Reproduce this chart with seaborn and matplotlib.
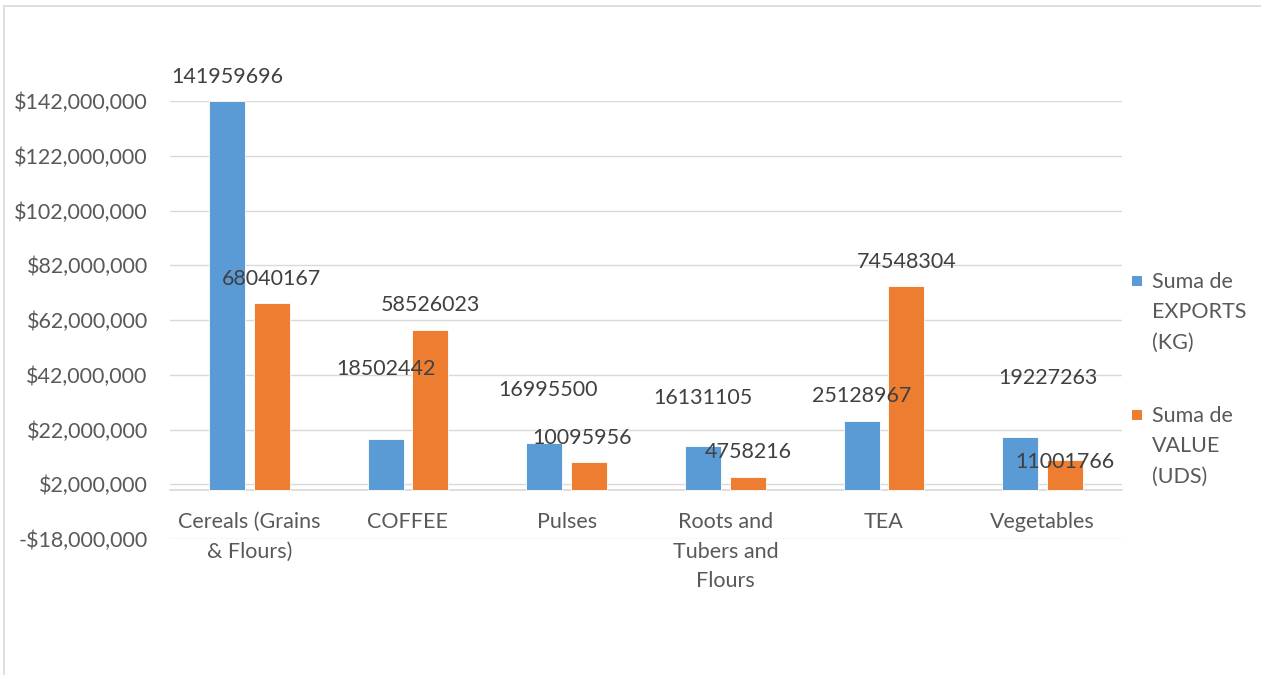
import matplotlib
matplotlib.use("Agg")
import matplotlib.pyplot as plt
from matplotlib.patches import Rectangle
from matplotlib.lines import Line2D
from matplotlib.ticker import FuncFormatter
import seaborn as sns
import pandas as pd

categories = ["Cereals (Grains\n& Flours)", "COFFEE", "Pulses",
              "Roots and\nTubers and\nFlours", "TEA", "Vegetables"]
series_names = ["Suma de\nEXPORTS\n(KG)", "Suma de\nVALUE\n(UDS)"]
exports_kg = [141959696, 18502442, 16995500, 16131105, 25128967, 19227263]
value_uds = [68040167, 58526023, 10095956, 4758216, 74548304, 11001766]
y_ticks = [-18000000, 2000000, 22000000, 42000000, 62000000,
           82000000, 102000000, 122000000, 142000000]

# label offsets (pixels) from the top centre of each bar, per series
exports_label_offsets = [(0, 24), (0, 70), (4, 53), (0, 48), (0, 25), (28, 59)]
value_label_offsets = [(0, 24), (0, 25), (-7, 24), (0, 25), (0, 24), (0, -2)]

colors = ["#5B9BD5", "#ED7D31"]
TEXT = "#595959"
LABEL = "#404040"
GRID = "#D9D9D9"
FS = 15.5

sns.set_theme(style="white")
plt.rcParams["font.family"] = ["Lato", "DejaVu Sans"]

df = pd.DataFrame({
    "category": categories * 2,
    "series": [series_names[0]] * len(categories) + [series_names[1]] * len(categories),
    "value": exports_kg + value_uds,
})

W, H = 1261, 675
fig = plt.figure(figsize=(W / 100, H / 100), dpi=100)
ax = fig.add_axes([170 / W, 1 - 539 / H, (1122 - 170) / W, (539 - 101) / H])

sns.barplot(data=df, x="category", y="value", hue="series",
            hue_order=series_names, order=categories, palette=colors,
            saturation=1, width=0.567, gap=0.2, legend=False, ax=ax,
            edgecolor="white", linewidth=0.6)

ax.set_xlim(-0.5, len(categories) - 0.5)
ax.set_ylim(-18000000, 142000000)
ax.set_yticks(y_ticks)
ax.yaxis.set_major_formatter(FuncFormatter(
    lambda v, _: ("-$" if v < 0 else "$") + f"{abs(v):,.0f}"))
ax.set_xlabel("")
ax.set_ylabel("")

ax.grid(axis="y", color=GRID, linewidth=1.0)
ax.grid(axis="x", visible=False)
ax.set_axisbelow(True)
for side in ["left", "right", "top"]:
    ax.spines[side].set_visible(False)
ax.spines["bottom"].set_position(("data", 0))
ax.spines["bottom"].set_color(GRID)
ax.spines["bottom"].set_linewidth(1.2)
ax.spines["bottom"].set_zorder(0.5)

ax.tick_params(axis="y", length=0, pad=16, labelsize=FS, labelcolor=TEXT)
ax.tick_params(axis="x", length=0, pad=16, labelsize=FS, labelcolor=TEXT)
for t in ax.get_xticklabels():
    t.set_linespacing(1.6)

# value labels above the bars
for container, vals, offs in zip(ax.containers, [exports_kg, value_uds],
                                 [exports_label_offsets, value_label_offsets]):
    for bar, v, (dx, dy) in zip(container, vals, offs):
        xc = bar.get_x() + bar.get_width() / 2
        ax.annotate(f"{v}", (xc, bar.get_height()), xytext=(dx, dy),
                    textcoords="offset pixels", ha="center", va="center",
                    fontsize=FS, color=LABEL, annotation_clip=False)

# legend at the right
legend_tops = [281, 415]
for name, col, yc in zip(series_names, colors, legend_tops):
    fig.patches.append(Rectangle((1132 / W, 1 - (yc + 5) / H), 10 / W, 10 / H,
                                 transform=fig.transFigure, facecolor=col,
                                 edgecolor="none"))
    fig.text(1152 / W, 1 - (yc - 9) / H, name, ha="left", va="top",
             fontsize=FS, color=TEXT, linespacing=1.65)

# chart frame
fig.add_artist(Line2D([4 / W, 4 / W], [0, 1 - 6 / H], transform=fig.transFigure,
                      color=GRID, linewidth=1.2))
fig.add_artist(Line2D([4 / W, 1], [1 - 6 / H, 1 - 6 / H], transform=fig.transFigure,
                      color=GRID, linewidth=1.2))

fig.savefig("out.png", dpi=100, facecolor="white")
